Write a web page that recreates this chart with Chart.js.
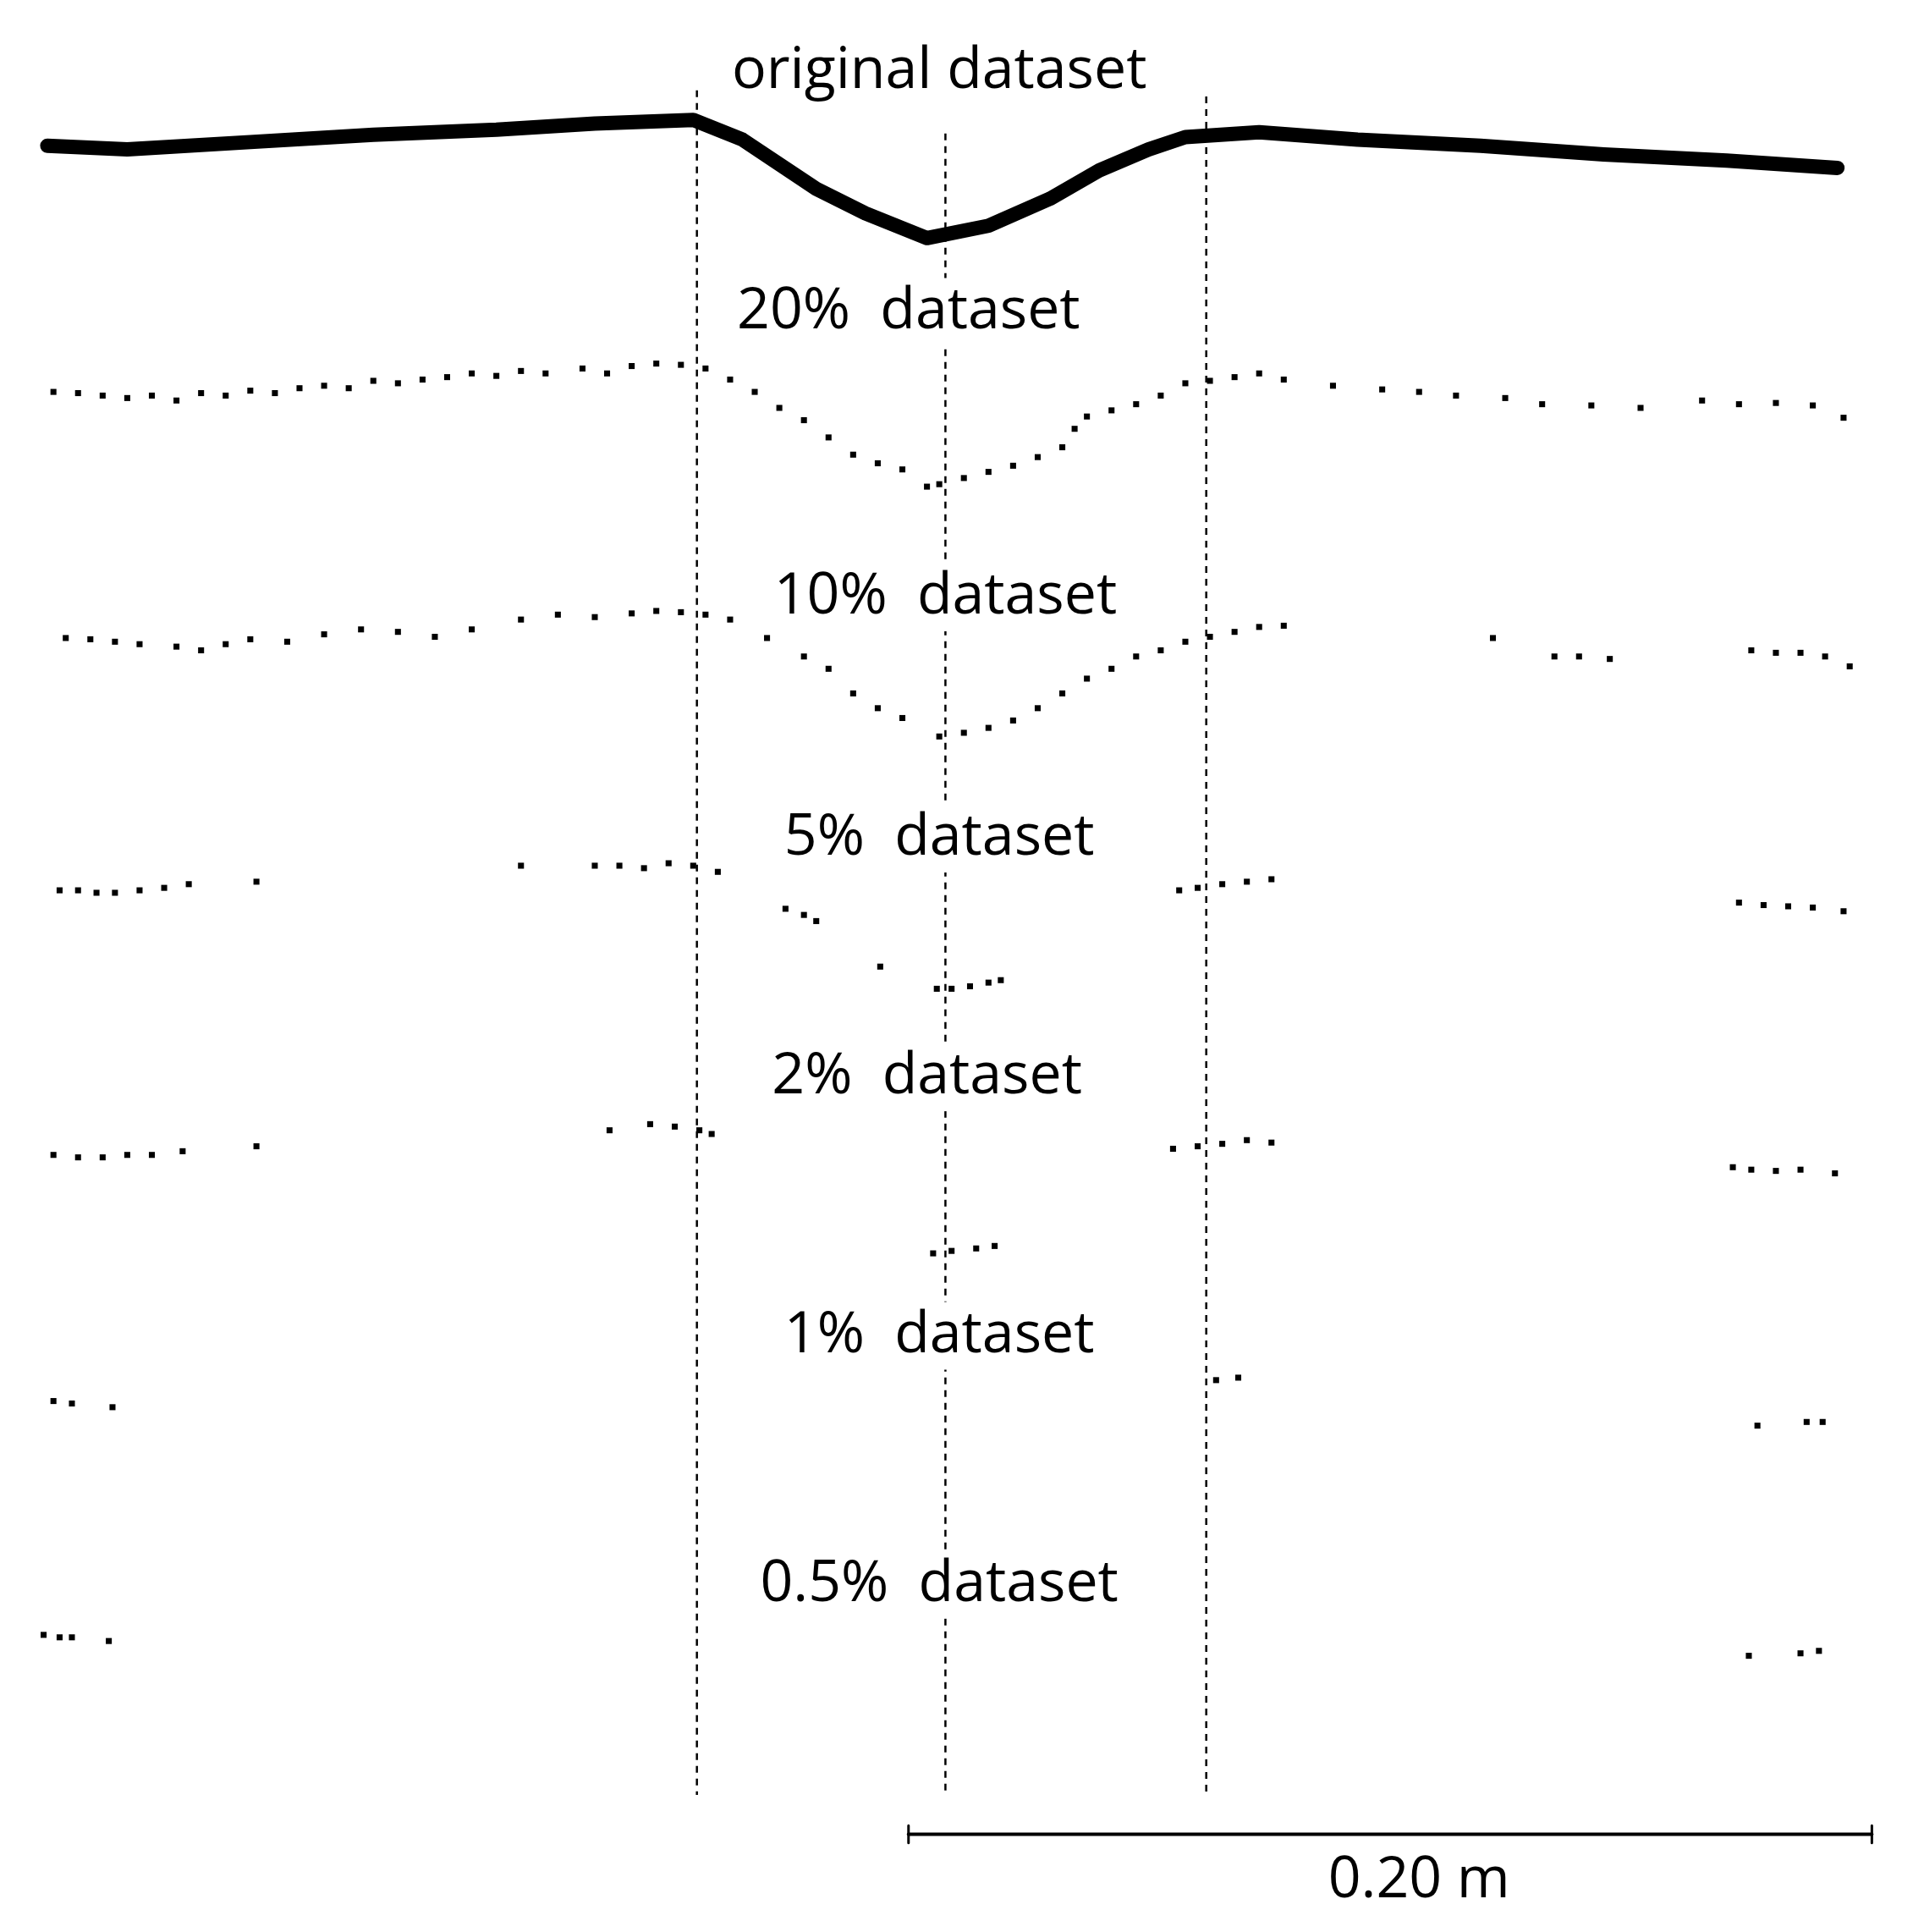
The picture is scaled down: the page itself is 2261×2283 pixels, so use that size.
<!DOCTYPE html>
<html>
<head>
<meta charset="utf-8">
<script src="https://cdn.jsdelivr.net/npm/chart.js@4/dist/chart.umd.min.js"></script>
<style>
html, body { margin: 0; padding: 0; background: #fff; }
#wrap { width: 2261px; height: 2283px; }
</style>
</head>
<body>
<div id="wrap"><canvas id="grafico"></canvas></div>
<script>
// profile points, in picture units (x across, y down)
const original = [[35,115],[100,118],[200,112],[300,106],[400,102],[480,97],[560,94],[600,110],[660,150],[700,170],[750,190],[800,180],[850,158],[890,135],[930,118],[960,108],[1020,104],[1100,110],[1200,115],[1300,122],[1400,127],[1490,133]]

const set20 = [[40,315],[60,316],[80,318],[100,320],[120,318],[140,322],[160,316],[180,318],[200,314],[220,316],[240,312],[260,310],[280,312],[300,306],[320,308],[340,305],[360,303],[380,300],[400,302],[420,298],[440,300],[470,296],[490,300],[510,294],[530,292],[550,293],[570,296],[590,305],[610,315],[630,328],[650,338],[670,352],[690,366],[710,373],[730,378],[750,392],[760,390],[780,385],[800,380],[820,375],[840,368],[860,360],[870,345],[880,335],[900,330],[920,325],[940,318],[960,308],[980,306],[1000,303],[1020,300],[1040,305],[1080,310],[1120,313],[1150,315],[1180,318],[1220,320],[1250,325],[1290,326],[1330,328],[1380,322],[1410,325],[1440,324],[1470,326],[1495,336]]

const set10 = [[50,515],[70,516],[90,518],[110,520],[140,522],[160,525],[180,520],[200,516],[230,518],[260,512],[290,508],[320,510],[350,514],[380,508],[420,500],[450,496],[480,498],[510,495],[530,493],[550,494],[570,496],[590,500],[620,515],[650,530],[670,540],[690,560],[710,572],[730,580],[760,595],[780,592],[800,588],[820,582],[840,572],[860,560],[880,548],[900,540],[920,530],[940,525],[960,518],[980,514],[1000,510],[1020,506],[1040,505],[1210,515],[1260,530],[1280,530],[1305,532],[1420,525],[1440,527],[1460,527],[1480,530],[1500,538]]

const set5 = [[45,720],[60,720],[75,722],[90,722],[110,720],[130,718],[150,715],[205,713],[420,700],[480,700],[500,700],[520,702],[540,698],[560,700],[580,705],[635,735],[650,740],[660,745],[712,782],[758,800],[770,800],[785,798],[800,795],[810,793],[955,720],[970,718],[990,715],[1010,713],[1030,711],[1410,730],[1430,732],[1450,733],[1470,734],[1495,737]]

const set2 = [[40,935],[60,937],[80,937],[100,935],[120,935],[145,932],[205,928],[492,915],[525,910],[545,912],[565,915],[575,918],[950,930],[970,928],[990,926],[1010,923],[1030,925],[755,1015],[770,1013],[790,1011],[805,1009],[1405,945],[1420,947],[1440,948],[1460,947],[1488,950]]

const set1 = [[40,1135],[55,1137],[88,1140],[985,1118],[1003,1116],[1425,1155],[1465,1152],[1478,1152]]

const set05 = [[32,1325],[45,1327],[55,1327],[85,1330],[1418,1342],[1460,1340],[1475,1338]]

const labels = [
  ['original dataset', 760, 55],
  ['20%  dataset', 735, 250],
  ['10%  dataset', 765, 482],
  ['5%  dataset', 760, 678],
  ['2%  dataset', 750, 872],
  ['1%  dataset', 760, 1082],
  ['0.5%  dataset', 760, 1284],
  ['0.20 m', 1150, 1525]
]

const dashX = [[563,70],[765,105],[977,75]]
const dashBottom = 1455
const scaleBar = [735, 1518, 1487]

const pts = a => a.map(p => ({ x: p[0], y: p[1] }))
const dotSet = a => ({ type: 'scatter', data: pts(a), pointRadius: 5, pointStyle: 'rect', pointBorderWidth: 0, backgroundColor: '#000' })
const lineSet = (a, w, dash) => ({ type: 'line', data: pts(a), borderColor: '#000', borderWidth: w, borderDash: dash || [], borderJoinStyle: 'round', borderCapStyle: 'round', pointRadius: 0, fill: false })

const datasets = [
  lineSet(original, 17),
  dotSet(set20), dotSet(set10), dotSet(set5), dotSet(set2), dotSet(set1), dotSet(set05)
]
dashX.forEach(d => { const s = lineSet([[d[0], d[1]], [d[0], dashBottom]], 2.5, [8, 7]); s.borderCapStyle = 'butt'; datasets.push(s) })
datasets.push(lineSet([[scaleBar[0], scaleBar[2]], [scaleBar[1], scaleBar[2]]], 4))
datasets.push(lineSet([[scaleBar[0], scaleBar[2] - 7], [scaleBar[0], scaleBar[2] + 7]], 3))
datasets.push(lineSet([[scaleBar[1], scaleBar[2] - 7], [scaleBar[1], scaleBar[2] + 7]], 3))

const textPlugin = {
  id: 'texts',
  afterDatasetsDraw(chart) {
    const c = chart.ctx, xs = chart.scales.x, ys = chart.scales.y
    c.save()
    c.font = '68px "Open Sans"'
    c.textAlign = 'center'
    c.textBaseline = 'middle'
    labels.forEach(l => {
      const x = xs.getPixelForValue(l[1]), y = ys.getPixelForValue(l[2])
      const w = c.measureText(l[0]).width
      c.fillStyle = '#fff'
      c.fillRect(x - w / 2 - 6, y - 40, w + 12, 80)
      c.fillStyle = '#000'
      c.fillText(l[0], x, y)
    })
    c.restore()
  }
}

new Chart(document.getElementById('grafico'), {
  data: { datasets },
  options: {
    responsive: true,
    maintainAspectRatio: false,
    animation: false,
    layout: { padding: 0 },
    plugins: { legend: { display: false }, tooltip: { enabled: false } },
    scales: {
      x: { type: 'linear', min: 0, max: 1548, display: false },
      y: { type: 'linear', min: 0, max: 1563, reverse: true, display: false }
    }
  },
  plugins: [textPlugin]
})
</script>
</body>
</html>
